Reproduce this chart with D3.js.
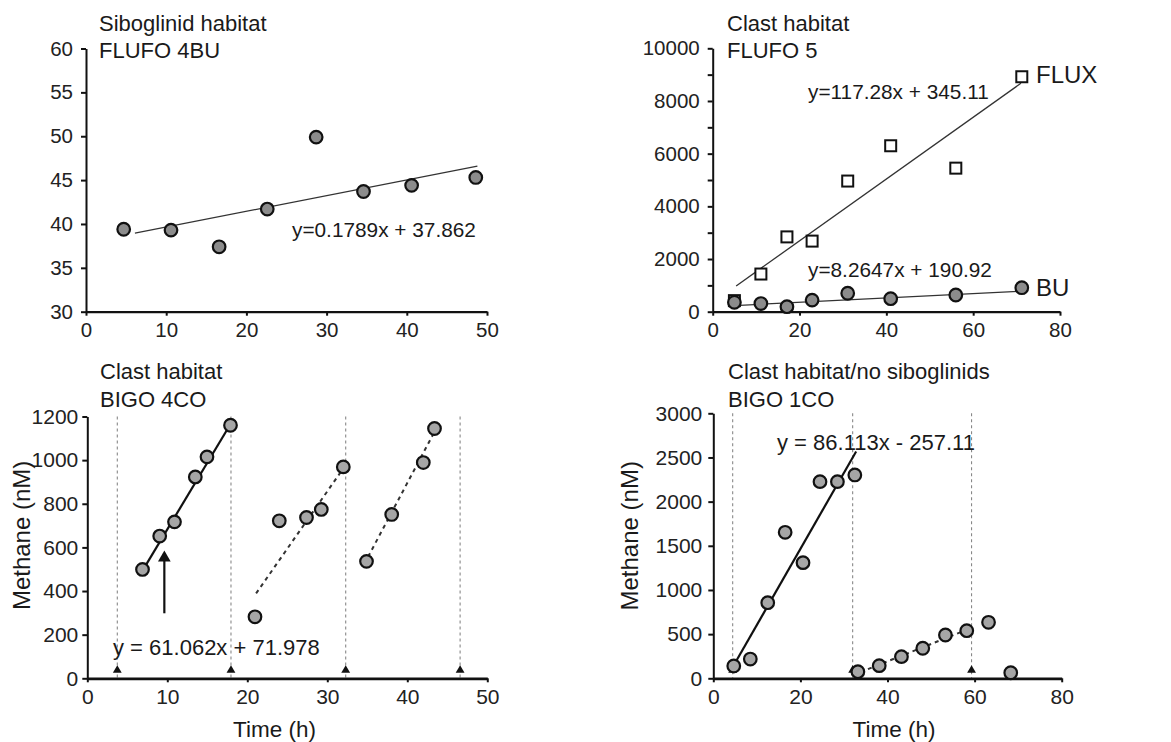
<!DOCTYPE html>
<html>
<head>
<meta charset="utf-8">
<script src="https://cdn.jsdelivr.net/npm/d3@7"></script>
<style>
  body { margin: 0; background: #fff; }
  svg { font-family: "Liberation Sans", Arial, sans-serif; }
  .axis path, .axis line { stroke: #111; }
  .axis text { fill: #222; }
</style>
</head>
<body>
<div id="chart"></div>
<script>
// ---- data ----
// Siboglinid habitat, FLUFO 4BU
var sibX = [4.7, 10.6, 16.6, 22.6, 28.7, 34.6, 40.6, 48.6];
var sibY = [39.4, 39.3, 37.4, 41.7, 49.9, 43.7, 44.4, 45.3];
var sibFit = { slope: 0.1789, icpt: 37.862, from: 6.1, to: 48.8 };

// Clast habitat, FLUFO 5
var fluxX = [5.0, 11.1, 17.1, 22.9, 31.1, 41.0, 56.0, 71.2];
var fluxY = [420, 1430, 2840, 2680, 4960, 6300, 5450, 8920];
var buX = [5.0, 11.1, 17.1, 22.9, 31.1, 41.0, 56.0, 71.2];
var buY = [357, 310, 190, 440, 700, 494, 634, 911];
var fluxFit = { slope: 117.28, icpt: 345.11, from: 5.4, to: 71 };
var buFit = { slope: 8.2647, icpt: 190.92, from: 5.1, to: 71 };

// Clast habitat, BIGO 4CO
var c4X = [6.9, 9.05, 10.9, 13.5, 14.96, 17.9, 20.96, 24.0, 27.4, 29.25, 32.0, 34.9, 38.05, 42.0, 43.4];
var c4Y = [499, 652, 717, 923, 1015, 1160, 282, 722, 737, 774, 969, 536, 751, 989, 1145];
var c4Fit = { slope: 61.062, icpt: 71.978, from: 7.0, to: 18.0 };
var c4Dashed = [[[21.1, 389], [31.9, 957]], [[35.1, 557], [43.5, 1137]]];
var c4Vlines = [3.75, 17.96, 32.3, 46.6];
var c4Arrow = { x: 9.63, y0: 298, y1: 575 };

// Clast habitat/no siboglinids, BIGO 1CO
var c1X = [4.7, 8.5, 12.5, 16.5, 20.6, 24.5, 28.5, 32.5, 33.2, 38.1, 43.2, 48.1, 53.3, 58.2, 63.2, 68.3];
var c1Y = [139, 218, 856, 1653, 1309, 2226, 2226, 2302, 75, 143, 245, 340, 490, 539, 634, 63];
var c1Fit = { slope: 86.113, icpt: -257.11, from: 4.6, to: 32.8 };
var c1Dashed = [[[33.8, 70], [58.5, 555]]];
var c1Vlines = [4.45, 32.0, 59.3];

var svg = d3.select("#chart").append("svg")
  .attr("width", 1171)
  .attr("height", 742);

function fitLine(f) {
  return [[f.from, f.slope * f.from + f.icpt], [f.to, f.slope * f.to + f.icpt]];
}

function addText(x, y, str, size, anchor) {
  return svg.append("text")
    .attr("x", x).attr("y", y)
    .attr("font-size", size)
    .attr("text-anchor", anchor || "start")
    .attr("fill", "#1a1a1a")
    .text(str);
}

// axes for one panel
function drawAxes(p) {
  var xAxis = d3.axisBottom(p.x).tickValues(p.xTicks).tickSize(4).tickSizeOuter(0).tickPadding(7)
    .tickFormat(d3.format("d"));
  var gx = svg.append("g").attr("class", "axis")
    .attr("transform", "translate(0," + p.y.range()[0] + ")")
    .call(xAxis);
  gx.select(".domain").attr("stroke-width", p.xw);
  gx.selectAll("line").attr("stroke-width", 2);
  gx.selectAll("text").attr("font-size", p.fs);

  if (p.yMinor) {
    var gm = svg.append("g").attr("class", "axis")
      .attr("transform", "translate(" + p.x.range()[0] + ",0)")
      .call(d3.axisLeft(p.y).tickValues(p.yMinor).tickSize(5).tickFormat(""));
    gm.select(".domain").remove();
    gm.selectAll("line").attr("stroke-width", 2);
  }
  var yAxis = d3.axisLeft(p.y).tickValues(p.yTicks).tickSize(5).tickSizeOuter(0).tickPadding(p.pad)
    .tickFormat(d3.format("d"));
  var gy = svg.append("g").attr("class", "axis")
    .attr("transform", "translate(" + p.x.range()[0] + ",0)")
    .call(yAxis);
  gy.select(".domain").attr("stroke-width", 2);
  gy.selectAll("line").attr("stroke-width", 2);
  gy.selectAll("text").attr("font-size", p.fs);
}

function drawLine(p, pts, width, dash, color) {
  var line = d3.line().x(function(d) { return p.x(d[0]); }).y(function(d) { return p.y(d[1]); });
  svg.append("path")
    .datum(pts)
    .attr("d", line)
    .attr("fill", "none")
    .attr("stroke", color || "#111")
    .attr("stroke-width", width)
    .attr("stroke-dasharray", dash || null);
}

function drawCircles(p, xs, ys, fill) {
  svg.append("g").selectAll("circle")
    .data(xs)
    .join("circle")
    .attr("cx", function(d) { return p.x(d); })
    .attr("cy", function(d, i) { return p.y(ys[i]); })
    .attr("r", 6.3)
    .attr("fill", fill)
    .attr("stroke", "#111")
    .attr("stroke-width", 2.2);
}

function drawVlines(p, xs) {
  var top = p.y.range()[1], bot = p.y.range()[0];
  svg.append("g").selectAll("line")
    .data(xs)
    .join("line")
    .attr("x1", function(d) { return p.x(d); })
    .attr("x2", function(d) { return p.x(d); })
    .attr("y1", top).attr("y2", bot)
    .attr("stroke", "#888")
    .attr("stroke-width", 1.1)
    .attr("stroke-dasharray", "3,3");
  svg.append("g").selectAll("path")
    .data(xs)
    .join("path")
    .attr("d", d3.symbol(d3.symbolTriangle, 34))
    .attr("transform", function(d) { return "translate(" + p.x(d) + "," + (bot - 8) + ")"; })
    .attr("fill", "#111");
}

// ---- panel 1: Siboglinid habitat ----
var p1 = {
  x: d3.scaleLinear().domain([0, 50]).range([86, 487]),
  y: d3.scaleLinear().domain([30, 60]).range([311.7, 48.5]),
  xTicks: [0, 10, 20, 30, 40, 50], yTicks: [30, 35, 40, 45, 50, 55, 60],
  fs: 20.5, pad: 8, xw: 2.2
};
drawAxes(p1);
drawLine(p1, fitLine(sibFit), 1.3, null, "#333");
drawCircles(p1, sibX, sibY, "#8c8c8c");
addText(99, 31, "Siboglinid habitat", 22);
addText(99, 58, "FLUFO 4BU", 22);
addText(292, 237, "y=0.1789x + 37.862", 20.8);

// ---- panel 2: Clast habitat FLUFO 5 ----
var p2 = {
  x: d3.scaleLinear().domain([0, 80]).range([712.7, 1060]),
  y: d3.scaleLinear().domain([0, 10000]).range([311.7, 48.3]),
  xTicks: [0, 20, 40, 60, 80], yTicks: [0, 2000, 4000, 6000, 8000, 10000],
  yMinor: [1000, 3000, 5000, 7000, 9000],
  fs: 20.5, pad: 8, xw: 2.2
};
drawAxes(p2);
drawLine(p2, fitLine(fluxFit), 1.3, null, "#333");
drawLine(p2, fitLine(buFit), 1.3, null, "#333");
svg.append("g").selectAll("rect")
  .data(fluxX)
  .join("rect")
  .attr("x", function(d) { return p2.x(d) - 5.5; })
  .attr("y", function(d, i) { return p2.y(fluxY[i]) - 5.5; })
  .attr("width", 11).attr("height", 11)
  .attr("fill", "#fff")
  .attr("stroke", "#111")
  .attr("stroke-width", 2);
drawCircles(p2, buX, buY, "#8c8c8c");
addText(727, 31, "Clast habitat", 22);
addText(727, 58, "FLUFO 5", 22);
addText(808, 99, "y=117.28x + 345.11", 20.8);
addText(808, 277, "y=8.2647x + 190.92", 20.8);
addText(1036, 83, "FLUX", 24);
addText(1036, 296, "BU", 24);

// ---- panel 3: Clast habitat BIGO 4CO ----
var p3 = {
  x: d3.scaleLinear().domain([0, 50]).range([87.3, 487.3]),
  y: d3.scaleLinear().domain([0, 1200]).range([678.3, 416.5]),
  xTicks: [0, 10, 20, 30, 40, 50], yTicks: [0, 200, 400, 600, 800, 1000, 1200],
  fs: 21, pad: 4, xw: 2.8
};
drawVlines(p3, c4Vlines);
drawAxes(p3);
drawLine(p3, fitLine(c4Fit), 2.2);
c4Dashed.forEach(function(seg) { drawLine(p3, seg, 2, "4,4", "#333"); });
drawCircles(p3, c4X, c4Y, "#a6a6a6");
// arrow
svg.append("line")
  .attr("x1", p3.x(c4Arrow.x)).attr("x2", p3.x(c4Arrow.x))
  .attr("y1", p3.y(c4Arrow.y0)).attr("y2", p3.y(c4Arrow.y1) + 8)
  .attr("stroke", "#111").attr("stroke-width", 2.2);
svg.append("path")
  .attr("d", d3.symbol(d3.symbolTriangle, 70))
  .attr("transform", "translate(" + p3.x(c4Arrow.x) + "," + (p3.y(c4Arrow.y1) + 5) + ")")
  .attr("fill", "#111");
addText(100, 379, "Clast habitat", 22);
addText(100, 407, "BIGO 4CO", 22);
addText(113, 655, "y = 61.062x + 71.978", 22);
addText(p3.x(23.4), 737, "Time (h)", 22.5, "middle");
svg.append("text")
  .attr("transform", "translate(30," + ((p3.y.range()[0] + p3.y.range()[1]) / 2 - 12) + ") rotate(-90)")
  .attr("text-anchor", "middle")
  .attr("font-size", 24)
  .attr("fill", "#1a1a1a")
  .text("Methane (nM)");

// ---- panel 4: Clast habitat/no siboglinids BIGO 1CO ----
var p4 = {
  x: d3.scaleLinear().domain([0, 80]).range([713.3, 1061.7]),
  y: d3.scaleLinear().domain([0, 3000]).range([678.3, 413.3]),
  xTicks: [0, 20, 40, 60, 80], yTicks: [0, 500, 1000, 1500, 2000, 2500, 3000],
  fs: 21, pad: 6, xw: 2.8
};
drawVlines(p4, c1Vlines);
drawAxes(p4);
drawLine(p4, fitLine(c1Fit), 2.2);
c1Dashed.forEach(function(seg) { drawLine(p4, seg, 2, "4,4", "#333"); });
drawCircles(p4, c1X, c1Y, "#a6a6a6");
addText(728, 379, "Clast habitat/no siboglinids", 22);
addText(728, 407, "BIGO 1CO", 22);
addText(777, 450, "y = 86.113x - 257.11", 22);
addText(p4.x(41.5), 737, "Time (h)", 22.5, "middle");
svg.append("text")
  .attr("transform", "translate(638," + ((p4.y.range()[0] + p4.y.range()[1]) / 2 - 10) + ") rotate(-90)")
  .attr("text-anchor", "middle")
  .attr("font-size", 24)
  .attr("fill", "#1a1a1a")
  .text("Methane (nM)");
</script>
</body>
</html>
